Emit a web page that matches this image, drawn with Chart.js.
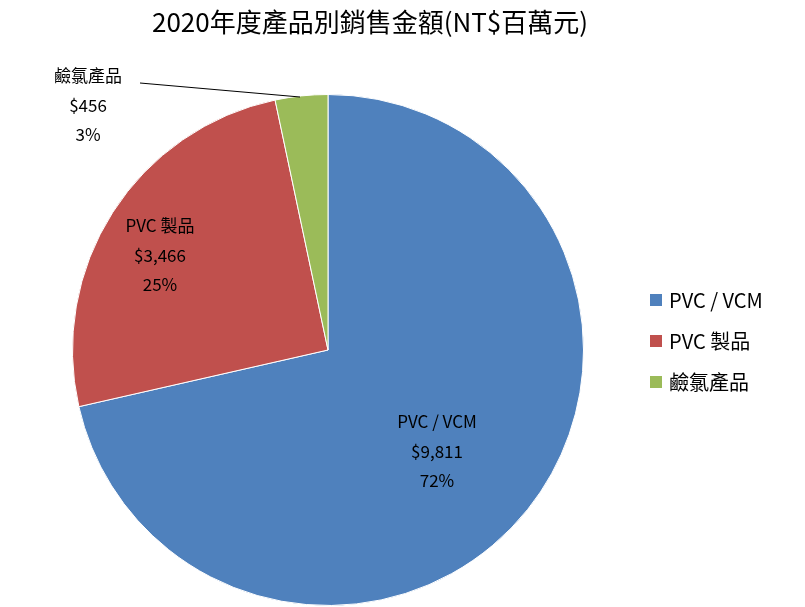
<!DOCTYPE html>
<html><head><meta charset="utf-8">
<script src="https://cdn.jsdelivr.net/npm/chart.js@4/dist/chart.umd.min.js"></script>
<style>html,body{margin:0;padding:0;background:#fff}#w{width:805px;height:607px}</style>
</head><body><div id="w"><canvas id="c"></canvas></div>
<script>
const titleText = '2020年度產品別銷售金額(NT$百萬元)';
const categories = ['PVC / VCM', 'PVC 製品', '鹼氯產品'];
const values = [9811, 3466, 456];
const percents = ['72%', '25%', '3%'];
const colors = ['#4F81BD', '#C0504D', '#9BBB59'];
const FONT = '"Noto Sans CJK TC", "Noto Sans", sans-serif';

const overlay = {
  id: 'overlay',
  afterDraw(chart) {
    const ctx = chart.ctx;
    ctx.save();
    ctx.fillStyle = '#000';
    ctx.textAlign = 'center';
    ctx.textBaseline = 'middle';
    ctx.font = '26px ' + FONT;
    ctx.fillText(titleText, 370, 22);
    // data labels
    ctx.font = '17px ' + FONT;
    const pos = [[437, 422], [160, 226], [88, 76]];
    categories.forEach((c, i) => {
      const [x, y] = pos[i];
      ctx.fillText(c, x, y);
      ctx.fillText('$' + values[i].toLocaleString('en-US'), x, y + 30);
      ctx.fillText(percents[i], x, y + 59);
    });
    // leader line
    ctx.strokeStyle = '#000'; ctx.lineWidth = 1;
    ctx.beginPath(); ctx.moveTo(140, 83); ctx.lineTo(300, 97); ctx.stroke();
    // legend
    ctx.textAlign = 'left';
    ctx.font = '20px ' + FONT;
    categories.forEach((c, i) => {
      const y = 300 + i * 41;
      ctx.fillStyle = colors[i];
      ctx.fillRect(650, y - 6, 12, 12);
      ctx.fillStyle = '#000';
      ctx.fillText(c, 669, y);
    });
    ctx.restore();
  }
};

new Chart(document.getElementById('c'), {
  type: 'pie',
  data: { labels: categories, datasets: [{ data: values, backgroundColor: colors, borderColor: '#fff', borderWidth: 1 }] },
  options: {
    responsive: true, maintainAspectRatio: false, animation: false,
    layout: { padding: { top: 94, bottom: 1, left: 72, right: 221 } },
    plugins: { legend: { display: false }, tooltip: { enabled: false } }
  },
  plugins: [overlay]
});
</script></body></html>
